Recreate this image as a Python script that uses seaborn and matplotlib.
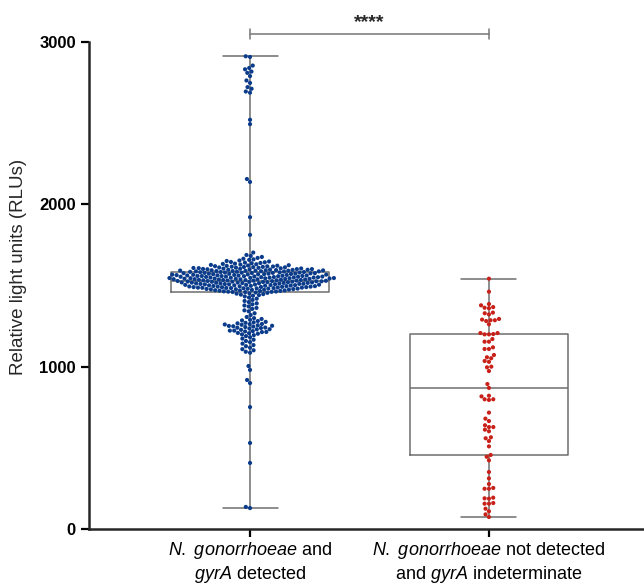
import pandas as pd
import matplotlib
matplotlib.use('Agg')
import matplotlib.pyplot as plt
import seaborn as sns

# Groups shown on the x axis
groups = ['detected', 'indeterminate']
tick_labels = [
    r'$\mathit{N.}$ $\mathit{gonorrhoeae}$ and' + '\n' + r'$\mathit{gyrA}$ detected',
    r'$\mathit{N.}$ $\mathit{gonorrhoeae}$ not detected' + '\n' + r'and $\mathit{gyrA}$ indeterminate',
]

rlu_detected = [
    # low tail
    129, 136, 407, 530, 751, 899, 918, 980, 1004,
    1086, 1092, 1101, 1108, 1117, 1126, 1133,
    1142, 1151, 1158, 1166, 1173, 1181, 1188, 1194, 1199, 1203, 1206,
    # cluster around 1250
    1208, 1213, 1214, 1217, 1219, 1222, 1222, 1227, 1230, 1231, 1235, 1238,
    1240, 1241, 1244, 1247, 1249, 1251, 1252, 1255, 1258, 1260, 1262, 1263,
    1267, 1270, 1273, 1276, 1281, 1285, 1289, 1294, 1299,
    1306, 1318, 1329, 1341, 1347,
    1356, 1362, 1371, 1377, 1384, 1390, 1398, 1405, 1411, 1419, 1426,
    1433, 1437, 1441, 1444, 1447, 1450, 1452, 1455, 1457,
    # main band (inside the box)
    1459, 1460, 1461, 1462, 1463, 1464, 1466, 1467, 1468, 1469, 1470, 1471,
    1473, 1474, 1475, 1476, 1477, 1478, 1479, 1480,
    1481, 1481, 1482, 1483, 1484, 1484, 1485, 1486, 1487, 1487, 1488, 1489,
    1490, 1490, 1491, 1492, 1493, 1493, 1494, 1495, 1496, 1496, 1497, 1498,
    1499, 1500,
    1501, 1501, 1502, 1503, 1504, 1504, 1505, 1506, 1507, 1507, 1508, 1509,
    1510, 1510, 1511, 1512, 1513, 1513, 1514, 1515, 1516, 1516, 1517, 1518,
    1518, 1519, 1519, 1520,
    1521, 1522, 1522, 1523, 1524, 1524, 1525, 1526, 1526, 1527, 1528, 1528,
    1529, 1530, 1530, 1531, 1532, 1532, 1533, 1534, 1534, 1535, 1536, 1537,
    1537, 1538, 1538, 1539, 1539, 1540,
    1541, 1541, 1542, 1543, 1543, 1544, 1545, 1545, 1546, 1546, 1547, 1548,
    1548, 1549, 1549, 1550, 1551, 1551, 1552, 1553, 1554, 1554, 1555, 1555,
    1556, 1557, 1557, 1558, 1558, 1559, 1559, 1560,
    1561, 1562, 1562, 1563, 1564, 1565, 1565, 1566, 1567, 1567, 1568, 1569,
    1570, 1570, 1571, 1572, 1573, 1573, 1574, 1575, 1576, 1576, 1577, 1578,
    1578, 1579, 1580, 1580, 1581, 1582, 1583, 1583, 1584, 1585,
    # upper wings
    1586, 1587, 1587, 1588, 1589, 1589, 1590, 1591, 1591, 1592, 1593, 1594,
    1594, 1595, 1596, 1597, 1597, 1598, 1599, 1600, 1601, 1601, 1602, 1603,
    1604, 1605,
    1606, 1607, 1608, 1609, 1610, 1611, 1612, 1613, 1614, 1615, 1616, 1617,
    1618, 1619, 1621, 1622, 1623, 1625,
    1627, 1629, 1631, 1633, 1635, 1637, 1639, 1641, 1643, 1645,
    1648, 1651, 1654, 1658, 1661, 1665,
    1670, 1676, 1682, 1688,
    # high tail
    1703, 1812, 1921, 2138, 2156, 2494, 2521,
    2688, 2695, 2712, 2722, 2748, 2763, 2790, 2810, 2818, 2832, 2840, 2855,
    2908, 2912,
]

# group 2 (N. gonorrhoeae not detected and gyrA indeterminate)
rlu_indeterminate = [
    74, 90, 109, 125, 156, 156, 160, 187, 189, 193,
    248, 248, 253, 277, 312, 351, 423, 445, 456, 509,
    542, 559, 565, 602, 612, 628, 628, 639, 665, 680,
    717, 795, 799, 799, 817, 821, 869, 893, 973, 996,
    1000, 1030, 1035, 1052, 1058, 1072, 1109, 1109, 1119, 1154,
    1154, 1170, 1199, 1199, 1201, 1207, 1207, 1261, 1281, 1286,
    1286, 1290, 1294, 1322, 1329, 1333, 1360, 1363, 1367, 1378,
    1386, 1462, 1542,
]

colors = {'detected': '#0B3C8C', 'indeterminate': '#C8211A'}

df = pd.DataFrame({
    'group': ['detected'] * len(rlu_detected) + ['indeterminate'] * len(rlu_indeterminate),
    'rlu': rlu_detected + rlu_indeterminate,
})

sns.set_style('ticks')
plt.rcParams['font.family'] = ['Liberation Sans', 'DejaVu Sans']
plt.rcParams['mathtext.fontset'] = 'custom'
plt.rcParams['mathtext.rm'] = 'Liberation Sans'
plt.rcParams['mathtext.it'] = 'Liberation Sans:italic'

fig = plt.figure(figsize=(6.44, 5.84), dpi=100)
ax = fig.add_axes([89 / 644, 55 / 584, 555 / 644, 524 / 584])

sns.boxplot(data=df, x='group', y='rlu', order=groups, whis=(0, 100),
            width=0.66, fill=False, color='#6E6E6E', linewidth=1.1,
            showfliers=False, ax=ax)

# shorten the whisker caps
for line in ax.lines:
    xs, ys = line.get_xdata(), line.get_ydata()
    if len(xs) == 2 and ys[0] == ys[1]:
        if ys[0] in (min(rlu_detected), max(rlu_detected),
                     min(rlu_indeterminate), max(rlu_indeterminate)):
            c = (xs[0] + xs[1]) / 2
            line.set_xdata([c - 0.115, c + 0.115])

sns.swarmplot(data=df, x='group', y='rlu', order=groups, hue='group',
              palette=colors, size=3.0, legend=False, ax=ax)

# significance bracket
ax.plot([0, 0], [3020, 3080], color='#777777', lw=1.1)
ax.plot([1, 1], [3020, 3080], color='#777777', lw=1.1)
ax.plot([0, 1], [3050, 3050], color='#777777', lw=1.1)
ax.text(0.5, 3070, '****', ha='center', va='bottom', fontsize=14,
        fontweight='bold')

ax.set_ylim(0, 3228)
ax.set_xlim(-0.674, 1.649)
ax.set_yticks([0, 1000, 2000, 3000])
ax.set_yticklabels(['0', '1000', '2000', '3000'], fontweight='bold')
ax.set_xticks([0, 1])
ax.set_xticklabels(tick_labels, fontsize=13)
ax.set_xlabel('')
ax.set_ylabel('Relative light units (RLUs)', fontsize=13.5, labelpad=9)
ax.tick_params(axis='y', labelsize=12, length=6, width=1.6, colors='black')
ax.tick_params(axis='x', length=6, width=1.6, pad=2, colors='black')

sns.despine(ax=ax)
ax.spines['left'].set_bounds(0, 3000)
ax.spines['left'].set_linewidth(1.8)
ax.spines['bottom'].set_linewidth(1.8)

fig.savefig('out.png', dpi=100)
